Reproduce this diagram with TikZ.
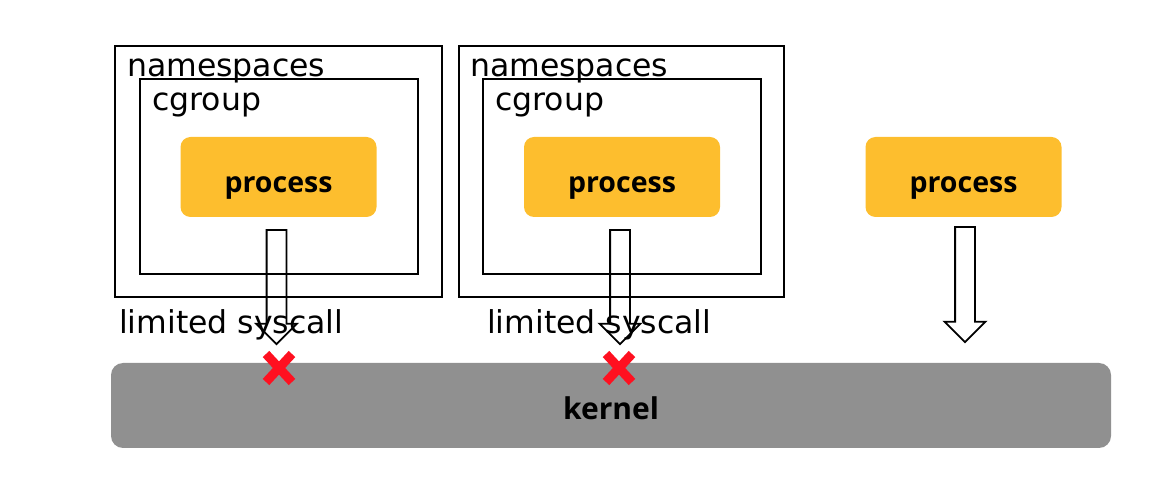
\documentclass[tikz,border=0pt]{standalone}
\usepackage{fontspec}
\setmainfont{DejaVu Sans}
\newfontfamily\procfont{Open Sans}
\usetikzlibrary{shapes,positioning}
\definecolor{procyellow}{HTML}{FDBE2E}
\definecolor{kernelgray}{HTML}{909090}
\definecolor{crossred}{HTML}{FF1020}
\tikzset{
  frame/.style={draw, line width=2pt, minimum width=#1, minimum height=251pt, inner sep=0pt},
  cgframe/.style={draw, line width=2pt, minimum width=278pt, minimum height=195pt, inner sep=0pt},
  proc/.style={fill=procyellow, rounded corners=10pt, minimum width=196pt, minimum height=80pt,
    text height=31pt, text depth=0pt, font=\procfont\fontsize{28.5}{32}\selectfont\bfseries},
  lbl/.style={anchor=base west, inner sep=0pt, font=\fontsize{31.5}{36}\selectfont},
  blockarrow/.style={single arrow, draw, line width=1.8pt, rotate=-90, anchor=tail,
    minimum height=#1, inner sep=9pt, single arrow head extend=10.5pt},
  cross/.style={crossred, line width=9pt}
}

\begin{document}
\begin{tikzpicture}[x=1pt,y=-1pt]
  \useasboundingbox (0,0) rectangle (1176,502);
  % namespace boxes
  \node[frame=327pt] (ns1) at (278.5,171.5) {};
  \node[cgframe] (cg1) at (279,176.5) {};
  \node[proc] (proc1) at (278.5,177) {process};
  \node[frame=325pt] (ns2) at (621.5,171.5) {};
  \node[cgframe] (cg2) at (622,176.5) {};
  \node[proc] (proc2) at (622,177) {process};
  \node[proc] (proc3) at (963.5,177) {process};
  \node[lbl] (nslbl1) at (127,77) {namespaces};
  \node[lbl] (cglbl1) at (152,111) {cgroup};
  \node[lbl] (nslbl2) at (470,77) {namespaces};
  \node[lbl] (cglbl2) at (495,111) {cgroup};
  % kernel
  \node[fill=kernelgray, rounded corners=12pt, minimum width=1000pt, minimum height=85pt,
    text height=29pt, text depth=0pt,
    font=\procfont\fontsize{30}{34}\selectfont\bfseries] (kernel) at (611,405.5) {kernel};
  % syscalls
  \node[blockarrow=114pt] (arr1) at ([xshift=-2pt,yshift=-12pt]proc1.south) {};
  \node[blockarrow=114pt] (arr2) at ([xshift=-2pt,yshift=-12pt]proc2.south) {};
  \node[blockarrow=115pt] (arr3) at ([xshift=1.5pt,yshift=-9pt]proc3.south) {};
  \node[lbl] (sys1) at (119,334) {limited syscall};
  \node[lbl] (sys2) at (487,334) {limited syscall};
  \coordinate (x1) at (279,368);
  \coordinate (x2) at (619,368);
  \foreach \c in {x1,x2}{
    \draw[cross] ([shift={(-13,-14)}]\c) -- ([shift={(13,14)}]\c);
    \draw[cross] ([shift={(-13,14)}]\c) -- ([shift={(13,-14)}]\c);
  }
\end{tikzpicture}
\end{document}
